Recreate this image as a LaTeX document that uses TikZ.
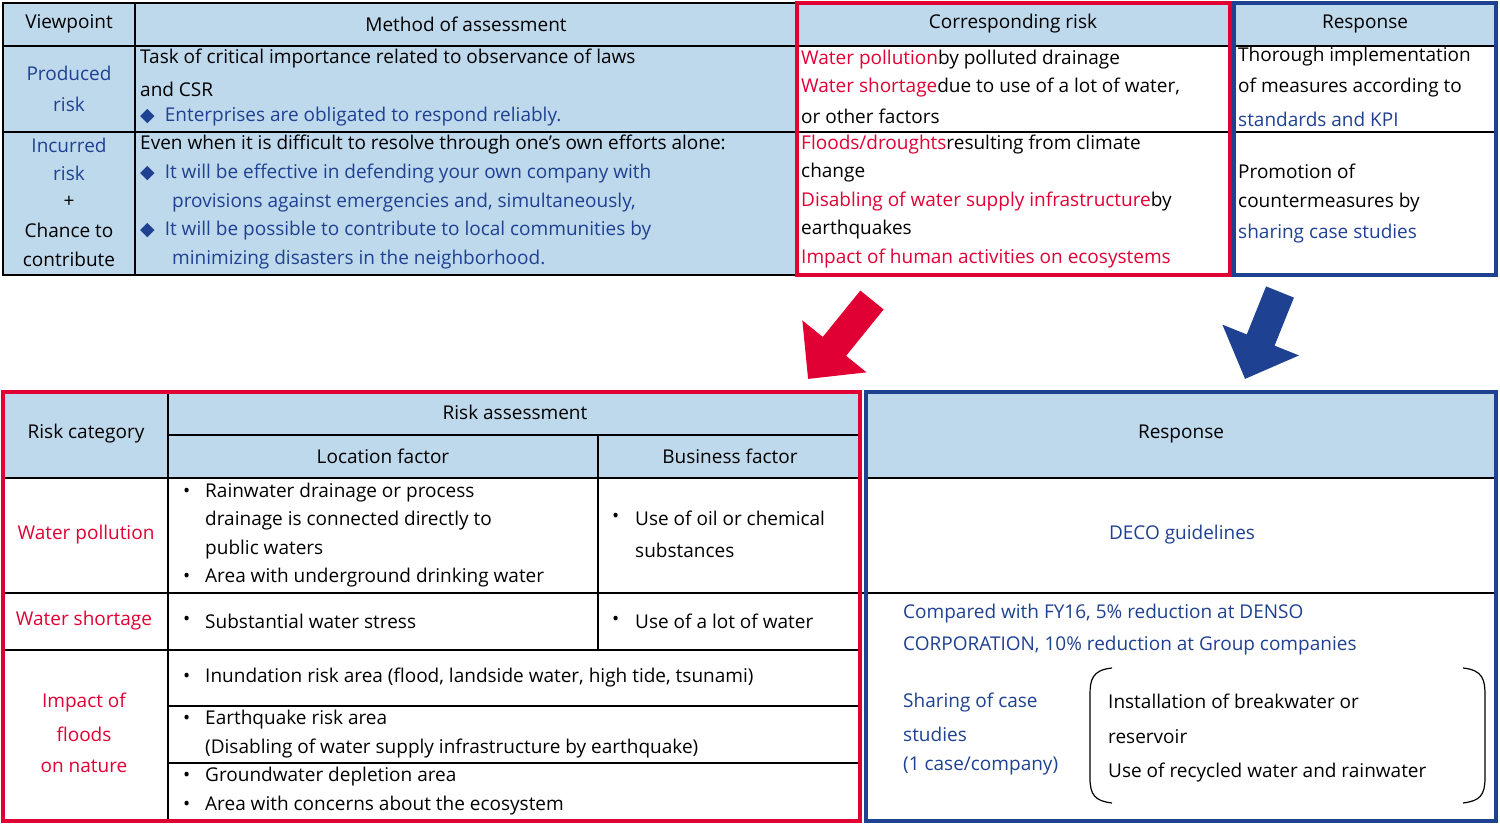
\documentclass[tikz,border=0pt]{standalone}
\usepackage{fontspec}
\setmainfont{Open Sans}
\newfontfamily\djv{DejaVu Sans}
\usetikzlibrary{arrows.meta}
\definecolor{lb}{RGB}{190,216,236}
\definecolor{rr}{RGB}{224,0,52}
\definecolor{bb}{RGB}{31,65,145}
\newcommand{\dmd}{{\djv\color{bb}◆}}
\begin{document}
\begin{tikzpicture}[x=1pt,y=-1pt,
  t/.style={anchor=west,inner sep=0,font=\fontsize{19}{22}\selectfont},
  c/.style={anchor=center,inner sep=0,font=\fontsize{19}{22}\selectfont},
  grid/.style={line width=1.5pt,black},
  rbox/.style={line width=4pt,rr},
  bbox/.style={line width=4pt,bb}]
\useasboundingbox (0,0) rectangle (1500,824);
% ---- top table fills
\fill[lb] (3,3) rectangle (795,275);
\fill[lb] (795,3) rectangle (1497,46);
\draw[grid] (3,3) rectangle (1497,275);
\draw[grid] (3,46) -- (1497,46);
\draw[grid] (3,132) -- (1497,132);
\draw[grid] (135,3) -- (135,275);
\draw[rbox] (797,3) rectangle (1230,275);
\draw[bbox] (1234,3) rectangle (1496,275);
\node[c] (h1) at (69,24) {Viewpoint};
\node[c] (h2) at (466,24) {Method of assessment};
\node[c] (h3) at (1013,24) {Corresponding risk};
\node[c] (h4) at (1365,24) {Response};
\node[c,text=bb] (p1) at (69,73) {Produced};
\node[c,text=bb] (p2) at (69,104) {risk};
\node[t] (m1) at (140,59) {Task of critical importance related to observance of laws};
\node[t] (m2) at (140,89) {and CSR};
\node[t] (m3) at (140,117) {\dmd\hspace{10pt}\color{bb}Enterprises are obligated to respond reliably.};
\node[t] (r1) at (801,60) {\color{rr}Water pollution\color{black} by polluted drainage};
\node[t] (r2) at (801,88) {\color{rr}Water shortage\color{black} due to use of a lot of water,};
\node[t] (r3) at (801,116) {or other factors};
\node[t] (s1) at (1238,57) {Thorough implementation};
\node[t] (s2) at (1238,88) {of measures according to};
\node[t,text=bb] (s3) at (1238,119) {standards and KPI};
\node[c,text=bb] (i1) at (69,145) {Incurred};
\node[c,text=bb] (i2) at (69,173) {risk};
\node[c] (i3) at (69,202) {+};
\node[c] (i4) at (69,230) {Chance to};
\node[c] (i5) at (69,259) {contribute};
\node[t] (n1) at (140,145) {Even when it is difficult to resolve through one's own efforts alone:};
\node[t] (n2) at (140,174) {\dmd\hspace{10pt}\color{bb}It will be effective in defending your own company with};
\node[t,text=bb] (n3) at (172,203) {provisions against emergencies and, simultaneously,};
\node[t] (n4) at (140,231) {\dmd\hspace{10pt}\color{bb}It will be possible to contribute to local communities by};
\node[t,text=bb] (n5) at (172,260) {minimizing disasters in the neighborhood.};
\node[t] (q1) at (801,145) {\color{rr}Floods/droughts\color{black} resulting from climate};
\node[t] (q2) at (801,173) {change};
\node[t] (q3) at (801,202) {\color{rr}Disabling of water supply infrastructure\color{black} by};
\node[t] (q4) at (801,230) {earthquakes};
\node[t,text=rr] (q5) at (801,259) {Impact of human activities on ecosystems};
\node[t] (u1) at (1238,171) {Promotion of};
\node[t] (u2) at (1238,203) {countermeasures by};
\node[t,text=bb] (u3) at (1238,234) {sharing case studies};
% ---- arrows
\coordinate (ra) at (872,300); \coordinate (rb) at (808,379);
\coordinate (ba) at (1280,292); \coordinate (bbb) at (1245,379);
\draw[rr,line width=30pt,-{Triangle[length=42pt,width=80pt]}] (ra) -- (rb);
\draw[bb,line width=30pt,-{Triangle[length=42pt,width=80pt]}] (ba) -- (bbb);
% ---- bottom table
\fill[lb] (3,392) rectangle (860,478);
\fill[lb] (865,392) rectangle (1497,478);
\draw[grid] (3,478) -- (860,478);
\draw[grid] (168,435) -- (860,435);
\draw[grid] (168,392) -- (168,822);
\draw[grid] (598,435) -- (598,650);
\draw[grid] (3,593) -- (1497,593);
\draw[grid] (3,650) -- (860,650);
\draw[grid] (168,706) -- (860,706);
\draw[grid] (168,763) -- (860,763);
\draw[grid] (865,478) -- (1497,478);
\draw[rbox] (3,392) rectangle (860,821);
\draw[bbox] (866,392) rectangle (1496,821);
\node[c] (b1) at (515,412) {Risk assessment};
\node[c] (b2) at (86,434) {Risk category};
\node[c] (b3) at (383,456) {Location factor};
\node[c] (b4) at (730,456) {Business factor};
\node[c] (b5) at (1181,434) {Response};
\node[c,text=rr] (w1) at (86,535) {Water pollution};
\node[c,text=rr] (w2) at (84,621) {Water shortage};
\node[c,text=rr] (w3) at (84,703) {Impact of};
\node[c,text=rr] (w4) at (84,734) {floods};
\node[c,text=rr] (w5) at (84,766) {on nature};
\foreach \y/\s [count=\i] in {493/Rainwater drainage or process,578/Area with underground drinking water,621/Substantial water stress,678/{Inundation risk area (flood, landside water, high tide, tsunami)},720/Earthquake risk area,806/Area with concerns about the ecosystem}{
  \node[t] (lb\i) at (183,\y) {•};
  \node[t] (lt\i) at (205,\y) {\s};}
\node[t] (lx1) at (205,521) {drainage is connected directly to};
\node[t] (lx2) at (205,550) {public waters};
\node[t] (lx3) at (205,749) {(Disabling of water supply infrastructure by earthquake)};
\node[t] (lb7) at (183,777) {•};
\node[t] (lx4) at (205,777) {Groundwater depletion area};
\node[t] (bu1) at (612,518) {•};
\node[t] (bt1) at (635,518) {Use of oil or chemical};
\node[t] (bt2) at (635,550) {substances};
\node[t] (bu2) at (612,621) {•};
\node[t] (bt3) at (635,621) {Use of a lot of water};
\node[c,text=bb] (d1) at (1182,535) {DECO guidelines};
\node[t,text=bb] (d2) at (903,614) {Compared with FY16, 5\% reduction at DENSO};
\node[t,text=bb] (d3) at (903,646) {CORPORATION, 10\% reduction at Group companies};
\node[t,text=bb] (d4) at (903,703) {Sharing of case};
\node[t,text=bb] (d5) at (903,734) {studies};
\node[t,text=bb] (d6) at (903,766) {(1 case/company)};
\draw[line width=1.2pt] (1112,668) .. controls (1092,670) and (1090,680) .. (1090,695) -- (1090,778) .. controls (1090,795) and (1095,801) .. (1112,803);
\draw[line width=1.2pt] (1463,668) .. controls (1483,670) and (1485,680) .. (1485,695) -- (1485,778) .. controls (1485,795) and (1480,801) .. (1463,803);
\node[t] (e1) at (1108,701) {Installation of breakwater or};
\node[t] (e2) at (1108,737) {reservoir};
\node[t] (e3) at (1108,773) {Use of recycled water and rainwater};
\end{tikzpicture}
\end{document}
